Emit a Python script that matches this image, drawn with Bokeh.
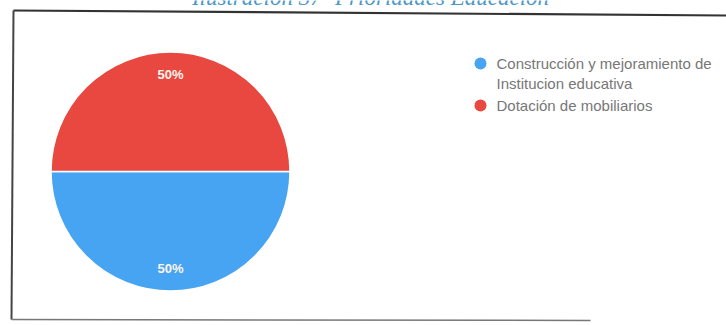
import math
from bokeh.plotting import figure
from bokeh.models import Range1d, ColumnDataSource
from bokeh.core.properties import value
from bokeh.embed import file_html
from bokeh.resources import INLINE

# ---- data ----
categories = ["Construcción y mejoramiento de\nInstitucion educativa", "Dotación de mobiliarios"]
shares = [50, 50]
colors = ["#46a4f2", "#e8483f"]
title_text = "Ilustración 37- Prioridades Educación"

# ---- layout constants (page pixels) ----
W, H = 726, 325

def X(px):
    return px

def Y(py):
    return H - py

cx, cy, R = 170, 171, 119.5
leg_x, leg_y0, leg_step = 480, 63, 42

p = figure(width=W, height=H, output_backend="svg", toolbar_location=None,
           x_range=Range1d(0, W), y_range=Range1d(0, H),
           min_border=0, margin=(0, 0, 0, 0))
p.axis.visible = False
p.grid.visible = False
p.outline_line_color = None
p.background_fill_color = "white"
p.border_fill_color = "white"

# pie
total = sum(shares)
starts, ends, mids = [], [], []
a = math.pi
for s in shares:
    da = 2 * math.pi * s / total
    starts.append(a)
    ends.append(a + da)
    mids.append(a + da / 2)
    a += da
src = ColumnDataSource(dict(start=starts, end=ends, color=colors))
p.wedge(x=X(cx), y=Y(cy), radius=R, start_angle="start", end_angle="end",
        fill_color="color", line_color="white", line_width=1.5, source=src)

# slice labels
lx = [X(cx) + 0.81 * R * math.cos(m) for m in mids]
ly = [Y(cy) + 0.81 * R * math.sin(m) for m in mids]
labels = [f"{round(100 * s / total)}%" for s in shares]
p.text(x=lx, y=ly, text=labels, text_align="center", text_baseline="middle",
       text_color="#fdf6ee", text_font=value("Liberation Sans"),
       text_font_size="13px", text_font_style="bold")

# legend
for i, (c, col) in enumerate(zip(categories, colors)):
    yy = Y(leg_y0 + i * leg_step)
    p.scatter(x=[X(leg_x)], y=[yy], size=12, fill_color=col, line_color=None)
    for j, line in enumerate(c.split("\n")):
        p.text(x=[X(leg_x + 16)], y=[yy - j * 20], text=[line], text_align="left",
               text_baseline="middle", text_color="#777777",
               text_font=value("Liberation Sans"), text_font_size="15px")

# frame of the scanned figure
p.line(x=[X(13), X(726)], y=[Y(10), Y(15)], line_color="#333333", line_width=2.2)
p.line(x=[X(13), X(11)], y=[Y(10), Y(319)], line_color="#444444", line_width=2)
p.line(x=[X(11), X(590)], y=[Y(319), Y(320)], line_color="#777777", line_width=1.5)

# caption at top (cut off in the scan)
p.text(x=[X(370)], y=[Y(-3)], text=[title_text], text_align="center",
       text_baseline="alphabetic", text_color="#4d96c6",
       text_font=value("Liberation Serif"), text_font_style="italic",
       text_font_size="23px")

open("out.html", "w").write(file_html(p, INLINE))
